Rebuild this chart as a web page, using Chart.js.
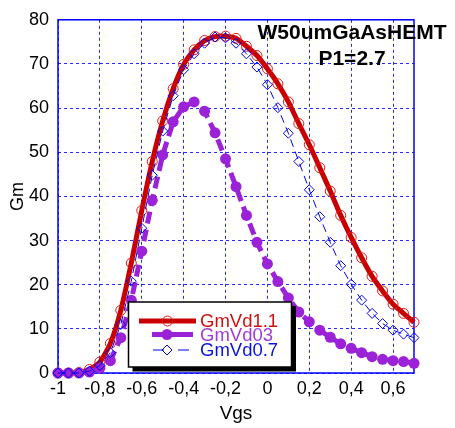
<!DOCTYPE html>
<html>
<head>
<meta charset="utf-8">
<script src="https://cdn.jsdelivr.net/npm/chart.js"></script>
<style>
  html, body { margin: 0; padding: 0; background: #fff; }
  #wrap { width: 455px; height: 428px; }
</style>
</head>
<body>
<div id="wrap"><canvas id="gmChart" width="455" height="428"></canvas></div>
<script>
// Vgs sweep (x) and Gm curves
const vgs = [-1, -0.95, -0.9, -0.85, -0.8, -0.75, -0.7, -0.65, -0.6, -0.55, -0.5, -0.45, -0.4, -0.35,
  -0.3, -0.25, -0.2, -0.15, -0.1, -0.05, 0, 0.05, 0.1, 0.15, 0.2, 0.25, 0.3, 0.35, 0.4, 0.45, 0.5,
  0.55, 0.6, 0.65, 0.7];
const gmVd11 = [0, 0, 0.1, 0.8, 2.5, 6.7, 14.2, 24.9, 36.8, 47.9, 57.1, 64.4, 69.9, 73.2, 75.3, 76.2,
  76.3, 75.8, 74.0, 71.9, 68.9, 65.5, 61.4, 56.5, 51.7, 46.5, 41.2, 35.7, 30.7, 26.1, 21.9, 18.6,
  15.6, 13.5, 11.5];
const gmVd03 = [0, 0, 0, 0.2, 1.1, 2.8, 8.0, 16.5, 27.6, 39.1, 49.4, 56.9, 60.3, 61.4, 59.3, 54.4,
  48.5, 42.2, 35.7, 29.6, 24.7, 20.7, 17.0, 13.8, 11.6, 9.7, 8.1, 6.6, 5.6, 4.6, 3.7, 3.1, 2.8,
  2.6, 2.2];
const gmVd07 = [0, 0, 0, 0.4, 1.7, 4.6, 11.0, 20.8, 32.8, 44.8, 54.8, 62.8, 68.7, 72.3, 74.7, 76.1,
  75.9, 74.7, 72.3, 69.3, 65.3, 60.1, 54.3, 47.9, 41.5, 35.4, 29.6, 24.3, 20.1, 16.5, 13.5, 11.2,
  9.7, 8.8, 8.0];

const seriesNames = ['GmVd1.1', 'GmVd03', 'GmVd0.7'];
const xTickValues = [-1, -0.8, -0.6, -0.4, -0.2, 0, 0.2, 0.4, 0.6];
const xTickLabels = ['-1', '-0,8', '-0,6', '-0,4', '-0,2', '0', '0,2', '0,4', '0,6'];
const titleLines = ['W50umGaAsHEMT', 'P1=2.7'];

const RED = '#c80000';
const PURPLE = '#9b22d6';
const BLUE = '#0000f0';
const FONT = "'Liberation Sans', Arial, sans-serif";

const toPoints = ys => vgs.map((x, i) => ({ x: x, y: ys[i] }));

// blue frame around the plot area
const frame = {
  id: 'frame',
  beforeDatasetsDraw(chart) {
    const { ctx, chartArea: a } = chart;
    ctx.save();
    ctx.strokeStyle = '#0000ff';
    ctx.lineWidth = 1.5;
    ctx.strokeRect(a.left, a.top, a.right - a.left, a.bottom - a.top);
    ctx.restore();
  }
};

function drawMarker(ctx, ds, x, y) {
  ctx.save();
  ctx.lineWidth = ds.pointBorderWidth;
  ctx.strokeStyle = ds.pointBorderColor;
  ctx.fillStyle = ds.pointBackgroundColor;
  ctx.setLineDash([]);
  const r = ds.pointRadius;
  ctx.beginPath();
  if (ds.pointStyle === 'rectRot') {
    ctx.moveTo(x - r, y); ctx.lineTo(x, y - r); ctx.lineTo(x + r, y); ctx.lineTo(x, y + r);
    ctx.closePath();
  } else {
    ctx.arc(x, y, r, 0, Math.PI * 2);
  }
  ctx.fill();
  if (ds.pointBorderWidth) ctx.stroke();
  ctx.restore();
}

// boxed legend with drop shadow, plus the title text in the upper right
const annotations = {
  id: 'annotations',
  afterDraw(chart) {
    const ctx = chart.ctx;
    ctx.save();
    ctx.fillStyle = '#000';
    ctx.fillRect(132.5, 306, 163.5, 65.5);
    ctx.fillStyle = '#fff';
    ctx.fillRect(128.5, 302, 163, 65);
    ctx.strokeStyle = '#000';
    ctx.lineWidth = 1.5;
    ctx.strokeRect(128.5, 302, 163, 65);

    const rows = [
      { y: 321, x1: 139, x2: 196, mx: 167.5 },
      { y: 334.5, x1: 152, x2: 193, mx: 167 },
      { y: 350, x1: 153, x2: 193, mx: 167 }
    ];
    chart.data.datasets.forEach((ds, i) => {
      const r = rows[i];
      ctx.save();
      ctx.strokeStyle = ds.borderColor;
      ctx.lineWidth = ds.borderWidth;
      ctx.setLineDash(ds.legendDash || []);
      ctx.beginPath();
      ctx.moveTo(r.x1, r.y);
      ctx.lineTo(r.x2, r.y);
      ctx.stroke();
      ctx.restore();
      drawMarker(ctx, ds, r.mx, r.y);
      ctx.fillStyle = ds.textColor;
      ctx.font = '18.5px ' + FONT;
      ctx.textBaseline = 'middle';
      ctx.textAlign = 'left';
      ctx.fillText(ds.label, 200, r.y + 1);
    });

    ctx.fillStyle = '#000';
    ctx.font = 'bold 21px ' + FONT;
    ctx.textAlign = 'center';
    ctx.textBaseline = 'alphabetic';
    ctx.fillText(titleLines[0], 352, 38.5);
    ctx.fillText(titleLines[1], 352, 65);
    ctx.restore();
  }
};

new Chart(document.getElementById('gmChart'), {
  type: 'line',
  data: {
    datasets: [
      {
        label: seriesNames[0],
        data: toPoints(gmVd11),
        borderColor: RED,
        borderWidth: 5,
        tension: 0.2,
        pointStyle: 'circle',
        pointRadius: 5,
        pointBorderWidth: 1,
        pointBorderColor: '#e01818',
        pointBackgroundColor: 'rgba(0,0,0,0)',
        textColor: '#d01010',
        order: 3,
        clip: false
      },
      {
        label: seriesNames[1],
        data: toPoints(gmVd03),
        borderColor: PURPLE,
        borderWidth: 5,
        borderDash: [12, 6],
        legendDash: [],
        pointStyle: 'circle',
        pointRadius: 5.5,
        pointBorderWidth: 0,
        pointBorderColor: PURPLE,
        pointBackgroundColor: PURPLE,
        textColor: '#a23ad8',
        order: 2,
        clip: false
      },
      {
        label: seriesNames[2],
        data: toPoints(gmVd07),
        borderColor: BLUE,
        borderWidth: 1,
        borderDash: [8, 5],
        legendDash: [11, 14],
        pointStyle: 'rectRot',
        pointRadius: 5,
        pointBorderWidth: 1,
        pointBorderColor: BLUE,
        pointBackgroundColor: 'rgba(255,255,255,0)',
        textColor: '#0a14d8',
        order: 1,
        clip: false
      }
    ]
  },
  options: {
    responsive: false,
    animation: false,
    layout: { padding: { left: 0, top: 17, right: 41, bottom: 0 } },
    plugins: {
      legend: { display: false },
      tooltip: { enabled: false }
    },
    scales: {
      x: {
        type: 'linear',
        min: -1,
        max: 0.7,
        afterBuildTicks: scale => { scale.ticks = xTickValues.map(v => ({ value: v })); },
        afterFit: scale => { scale.height = 55; },
        ticks: {
          color: '#000',
          font: { family: FONT, size: 18 },
          padding: 5,
          maxRotation: 0,
          callback: (v, i) => xTickLabels[i]
        },
        grid: { color: 'rgba(0,0,255,0.85)', lineWidth: 1, drawTicks: false },
        border: { display: false, dash: [3, 3] },
        title: {
          display: true,
          text: 'Vgs',
          color: '#000',
          font: { family: FONT, size: 19 },
          padding: { top: 0, bottom: 3 }
        }
      },
      y: {
        min: 0,
        max: 80,
        afterFit: scale => { scale.width = 58; },
        ticks: {
          stepSize: 10,
          color: '#000',
          font: { family: FONT, size: 18 },
          padding: 9
        },
        grid: { color: 'rgba(0,0,255,0.85)', lineWidth: 1, drawTicks: false },
        border: { display: false, dash: [3, 3] },
        title: {
          display: true,
          text: 'Gm',
          color: '#000',
          font: { family: FONT, size: 18 },
          padding: { top: 7, bottom: 0 }
        }
      }
    }
  },
  plugins: [frame, annotations]
});
</script>
</body>
</html>
